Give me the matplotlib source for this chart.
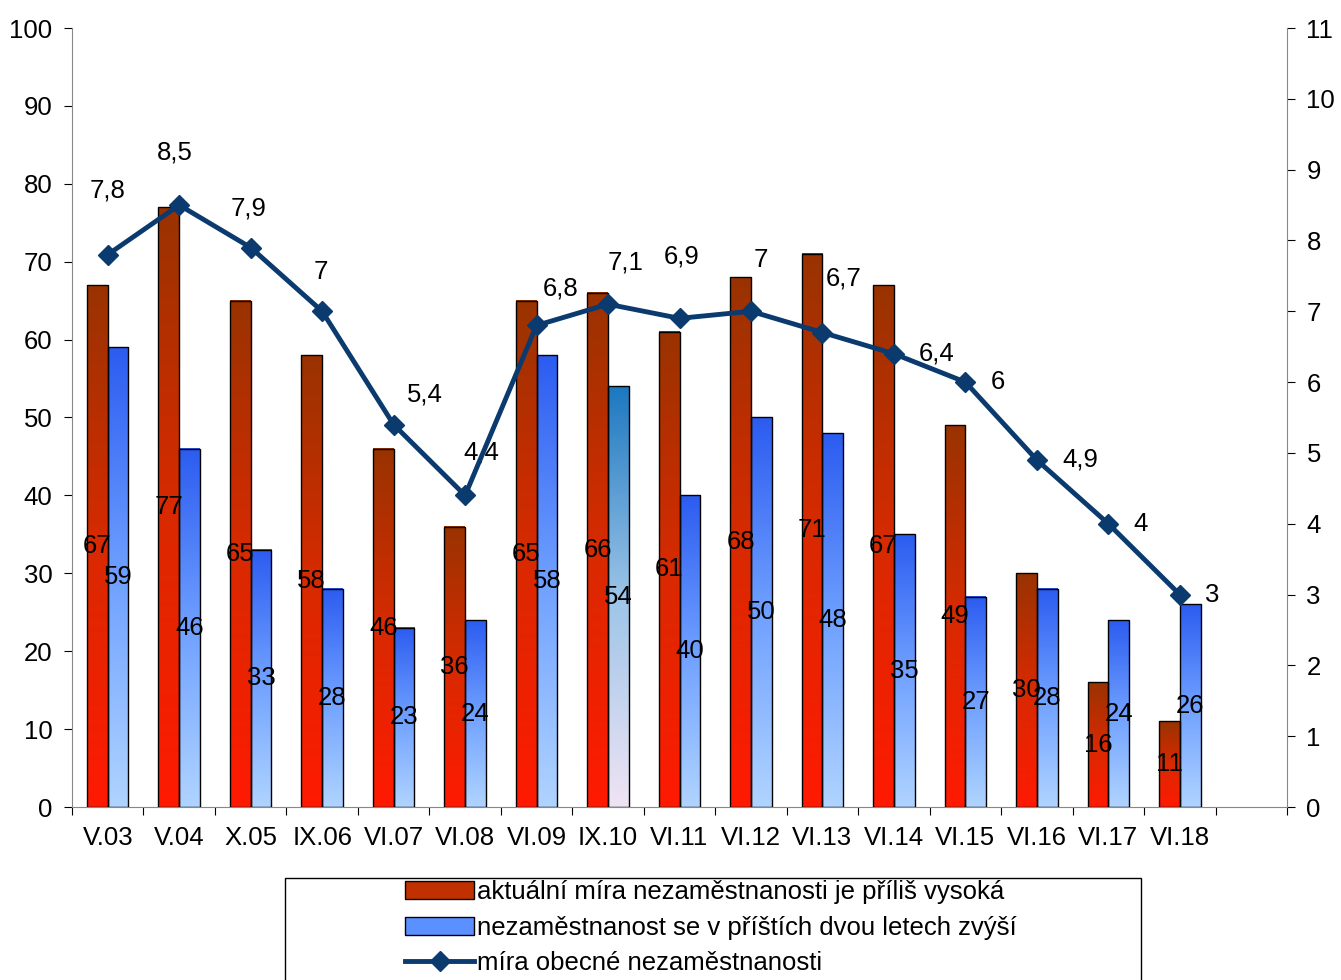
import numpy as np
import matplotlib
matplotlib.use("Agg")
import matplotlib.pyplot as plt
from matplotlib.colors import LinearSegmentedColormap
from matplotlib.lines import Line2D
from matplotlib.patches import Patch

labels = ["V.03", "V.04", "X.05", "IX.06", "VI.07", "VI.08", "VI.09", "IX.10",
          "VI.11", "VI.12", "VI.13", "VI.14", "VI.15", "VI.16", "VI.17", "VI.18"]
too_high = [67, 77, 65, 58, 46, 36, 65, 66, 61, 68, 71, 67, 49, 30, 16, 11]
will_rise = [59, 46, 33, 28, 23, 24, 58, 54, 40, 50, 48, 35, 27, 28, 24, 26]
rate = [7.8, 8.5, 7.9, 7, 5.4, 4.4, 6.8, 7.1, 6.9, 7, 6.7, 6.4, 6, 4.9, 4, 3]
# label offsets for the line values, in pixels (dx, dy)
rate_offsets = [(0, 64), (-4, 53), (-2, 39), (-1, 39), (31, 30), (16, 43), (24, 37), (18, 42),
                (2, 62), (10, 51), (21, 54), (43, 0), (32, 0), (43, 0), (32, 0), (32, 0)]

FS = 18.5
plt.rcParams['font.family'] = ['Liberation Sans', 'DejaVu Sans']
fig = plt.figure(figsize=(13.41, 9.8), dpi=100)
ax = fig.add_axes([72/1341, 1-807/980, (1287-72)/1341, (807-28)/980])

red_cm = LinearSegmentedColormap.from_list("r", ["#ff1a00", "#d82a00", "#993300"])
blue_cm = LinearSegmentedColormap.from_list("b", ["#b0d4ff", "#6fa0ff", "#2c5cf0"])
teal_cm = LinearSegmentedColormap.from_list("t", ["#f0e4f4", "#9cc4e8", "#1c78c0"])

x = np.arange(len(labels)) + 0.5
w = 0.29
grad = np.linspace(0, 1, 256).reshape(-1, 1)
for i, (xi, r, b) in enumerate(zip(x, too_high, will_rise)):
    bcm = teal_cm if labels[i] == "IX.10" else blue_cm
    for left, h, cm in [(xi - w, r, red_cm), (xi, b, bcm)]:
        ax.imshow(grad, cmap=cm, origin="lower", aspect="auto",
                  extent=[left, left + w, 0, h], zorder=2)
        ax.add_patch(plt.Rectangle((left, 0), w, h, fill=False, ec="black", lw=1, zorder=3))
    ax.text(xi - w / 2, r / 2, str(r), ha="center", va="center", fontsize=FS, zorder=5)
    ax.text(xi + w / 2, b / 2, str(b), ha="center", va="center", fontsize=FS, zorder=5)

ax.set_xlim(0, 17)
ax.set_ylim(0, 100)
ax.set_yticks(range(0, 101, 10))
ax.set_xticks(np.arange(0, 18))
ax.set_xticklabels([])
ax.set_xticks(x, minor=True)
ax.set_xticklabels(labels, minor=True, fontsize=FS)
ax.tick_params(axis="x", which="minor", length=0, pad=14)
ax.tick_params(axis="x", which="major", length=6)
ax.tick_params(axis="y", labelsize=FS, length=6, pad=8)
for s in ["top", "right"]:
    ax.spines[s].set_visible(False)
ax.spines["left"].set_color("#888888")
ax.spines["bottom"].set_color("#888888")

ax2 = ax.twinx()
ax2.set_ylim(0, 11)
ax2.set_yticks(range(0, 12))
ax2.tick_params(axis="y", labelsize=FS, length=6, pad=8)
for s in ["top", "left", "bottom"]:
    ax2.spines[s].set_visible(False)
ax2.spines["right"].set_color("#888888")
ax2.plot(x, rate, color="#0a3a6e", lw=3.5, marker="D", ms=10, zorder=6)
for xi, v, off in zip(x, rate, rate_offsets):
    ax2.annotate(f"{v:g}".replace(".", ","), (xi, v), xytext=off, textcoords="offset pixels",
                 ha="center", va="center", fontsize=FS)

# legend frame runs past the bottom edge as in the reference
fig.add_artist(plt.Rectangle((285/1341, -0.05), (1141-285)/1341, 0.05 + (980-878)/980,
                             transform=fig.transFigure, fill=False, ec="black", lw=1))
handles = [Patch(facecolor="#c03000", edgecolor="black"),
           Patch(facecolor="#5a90ff", edgecolor="black"),
           Line2D([], [], color="#0a3a6e", lw=3.5, marker="D", ms=10)]
names = ["aktuální míra nezaměstnanosti je příliš vysoká",
         "nezaměstnanost se v příštích dvou letech zvýší",
         "míra obecné nezaměstnanosti"]
fig.legend(handles, names, loc="upper left", bbox_to_anchor=(405/1341, 1-880/980),
           fontsize=FS, frameon=False, handlelength=2.7, handleheight=0.7,
           labelspacing=0.45, borderaxespad=0, handletextpad=0.1, borderpad=0)
fig.savefig("out.png", dpi=100)
